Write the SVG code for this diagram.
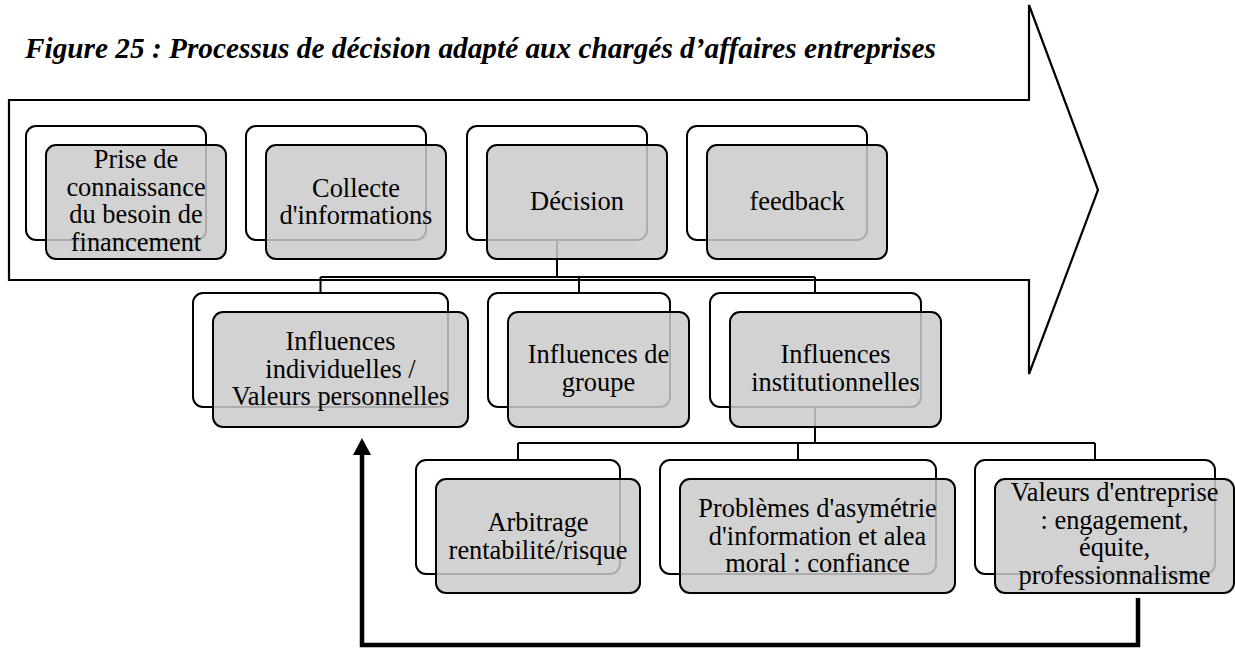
<svg xmlns="http://www.w3.org/2000/svg" width="1235" height="648" viewBox="0 0 1235 648">
<style>
.title{font-family:"Liberation Serif","Times New Roman",serif;font-weight:bold;font-style:italic;font-size:29.3px;fill:#000}
.back{fill:#ffffff;stroke:#000;stroke-width:2}
.front{fill:#cacaca;fill-opacity:0.85;stroke:#000;stroke-width:2}
.lbl{font-family:"Liberation Serif","Times New Roman",serif;font-size:26.4px;fill:#000;text-anchor:middle}
.conn{fill:none;stroke:#000;stroke-width:2}
.fb{fill:none;stroke:#000;stroke-width:4.5}
</style>
<defs>
<marker id="ah" markerUnits="userSpaceOnUse" markerWidth="20" markerHeight="20" refX="9" refY="0" viewBox="-1 -1 20 20" orient="auto-start-reverse" overflow="visible">
<path d="M0 -9 L17 0 L0 9 Z" fill="#000"/>
</marker>
</defs>
<rect width="1235" height="648" fill="#fff"/>
<text class="title" x="25" y="58">Figure 25 : Processus de décision adapté aux chargés d’affaires entreprises</text>
<g id="process-arrow">
<polygon points="9,100 1029,100 1029,5 1098,190 1029,374 1029,280 9,280" fill="#fff" stroke="#000" stroke-width="2.2"/>
</g>
<g id="connectors">
<path class="conn" d="M557 240 V277 M320.5 277 H815 M320.5 277 V293 M579 277 V293 M815 277 V293"/>
<path class="conn" d="M815 407 V443 M518 443 H1095 M518 443 V460 M798 443 V460 M1095 443 V460"/>
<path class="fb" d="M1138 598 V645 H362 V446" marker-end="url(#ah)"/>
</g>
<g id="n-prise">
<rect class="back" x="26" y="126" width="180" height="114" rx="10"/>
<rect class="front" x="46" y="145" width="180" height="114" rx="10"/>
<text class="lbl" x="136" y="168">Prise de</text>
<text class="lbl" x="136" y="195.5">connaissance</text>
<text class="lbl" x="136" y="223">du besoin de</text>
<text class="lbl" x="136" y="250.5">financement</text>
</g>
<g id="n-collecte">
<rect class="back" x="246" y="126" width="180" height="114" rx="10"/>
<rect class="front" x="266" y="145" width="180" height="114" rx="10"/>
<text class="lbl" x="356" y="196.5">Collecte</text>
<text class="lbl" x="356" y="224">d'informations</text>
</g>
<g id="n-decision">
<rect class="back" x="467" y="126" width="180" height="114" rx="10"/>
<rect class="front" x="487" y="145" width="180" height="114" rx="10"/>
<text class="lbl" x="577" y="210">Décision</text>
</g>
<g id="n-feedback">
<rect class="back" x="687" y="126" width="180" height="114" rx="10"/>
<rect class="front" x="707" y="145" width="180" height="114" rx="10"/>
<text class="lbl" x="797" y="210">feedback</text>
</g>
<g id="n-indiv">
<rect class="back" x="193" y="293" width="255" height="114" rx="10"/>
<rect class="front" x="213" y="312" width="255" height="115" rx="10"/>
<text class="lbl" x="340.5" y="350">Influences</text>
<text class="lbl" x="340.5" y="377.5">individuelles /</text>
<text class="lbl" x="340.5" y="405">Valeurs personnelles</text>
</g>
<g id="n-groupe">
<rect class="back" x="488" y="293" width="182" height="114" rx="10"/>
<rect class="front" x="508" y="312" width="181" height="115" rx="10"/>
<text class="lbl" x="598.5" y="363">Influences de</text>
<text class="lbl" x="598.5" y="390.5">groupe</text>
</g>
<g id="n-inst">
<rect class="back" x="710" y="293" width="211" height="114" rx="10"/>
<rect class="front" x="730" y="312" width="211" height="115" rx="10"/>
<text class="lbl" x="835.5" y="363">Influences</text>
<text class="lbl" x="835.5" y="390.5">institutionnelles</text>
</g>
<g id="n-arbitrage">
<rect class="back" x="416" y="460" width="204" height="114" rx="10"/>
<rect class="front" x="436" y="479" width="204" height="114" rx="10"/>
<text class="lbl" x="538" y="531">Arbitrage</text>
<text class="lbl" x="538" y="558.5">rentabilité/risque</text>
</g>
<g id="n-problemes">
<rect class="back" x="660" y="460" width="276" height="114" rx="10"/>
<rect class="front" x="680" y="479" width="275" height="114" rx="10"/>
<text class="lbl" x="817.5" y="517">Problèmes d'asymétrie</text>
<text class="lbl" x="817.5" y="544.5">d'information et alea</text>
<text class="lbl" x="817.5" y="572">moral : confiance</text>
</g>
<g id="n-valeurs">
<rect class="back" x="975" y="460" width="240" height="114" rx="10"/>
<rect class="front" x="995" y="479" width="239" height="114" rx="10"/>
<text class="lbl" x="1114.5" y="501">Valeurs d'entreprise</text>
<text class="lbl" x="1114.5" y="528.5">: engagement,</text>
<text class="lbl" x="1114.5" y="556">équite,</text>
<text class="lbl" x="1114.5" y="583.5">professionnalisme</text>
</g>
</svg>
